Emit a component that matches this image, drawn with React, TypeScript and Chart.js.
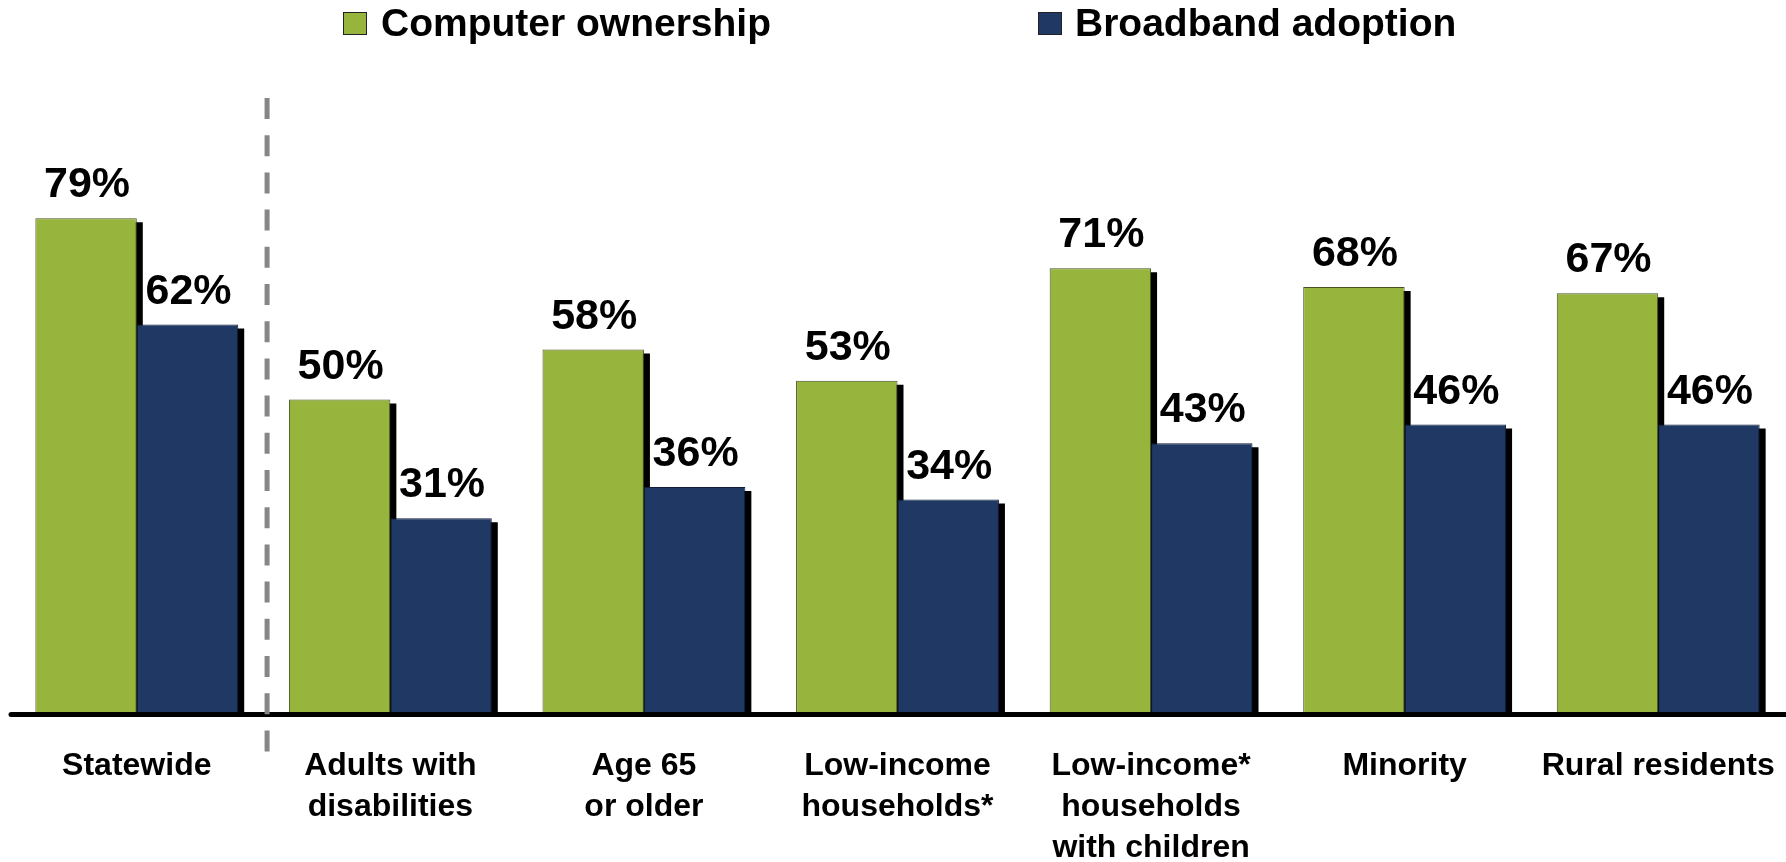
import React, { useEffect, useRef } from "react";
import { Chart, registerables } from "chart.js";

Chart.register(...registerables);

const categories: string[][] = [
  ["Statewide"],
  ["Adults with", "disabilities"],
  ["Age 65", "or older"],
  ["Low-income", "households*"],
  ["Low-income*", "households", "with children"],
  ["Minority"],
  ["Rural residents"],
];
const computerOwnership: number[] = [79, 50, 58, 53, 71, 68, 67];
const broadbandAdoption: number[] = [62, 31, 36, 34, 43, 46, 46];
const seriesNames: string[] = ["Computer ownership", "Broadband adoption"];
const seriesColors: string[] = ["#97B43D", "#1F3864"];
const seriesBorders: string[] = ["#45521F", "#101C38"];

const FONT = '"Liberation Sans", Arial, Helvetica, sans-serif';

const shadowPlugin = {
  id: "barShadows",
  beforeDatasetsDraw(chart: any) {
    const ctx = chart.ctx;
    ctx.save();
    ctx.fillStyle = "#000000";
    chart.data.datasets.forEach((_d: any, di: number) => {
      const meta = chart.getDatasetMeta(di);
      meta.data.forEach((el: any) => {
        const p = el.getProps(["x", "y", "base", "width"], true);
        ctx.fillRect(p.x - p.width / 2 + 6, p.y + 4, p.width, p.base - p.y - 4);
      });
    });
    ctx.restore();
  },
};

const overlayPlugin = {
  id: "overlay",
  afterDatasetsDraw(chart: any) {
    const ctx = chart.ctx;
    const yScale = chart.scales.y;
    const xScale = chart.scales.x;
    const zeroY = yScale.getPixelForValue(0);
    ctx.save();
    // axis line
    ctx.fillStyle = "#000000";
    ctx.beginPath();
    ctx.moveTo(11, zeroY);
    ctx.lineTo(chart.width, zeroY);
    ctx.lineTo(chart.width, zeroY + 5);
    ctx.lineTo(11, zeroY + 5);
    ctx.arc(11, zeroY + 2.5, 2.5, Math.PI / 2, (Math.PI * 3) / 2);
    ctx.closePath();
    ctx.fill();
    // value labels
    ctx.font = `bold 43px ${FONT}`;
    ctx.textAlign = "center";
    ctx.textBaseline = "alphabetic";
    ctx.fillStyle = "#000000";
    chart.data.datasets.forEach((d: any, di: number) => {
      const meta = chart.getDatasetMeta(di);
      meta.data.forEach((el: any, i: number) => {
        const p = el.getProps(["x", "y"], true);
        ctx.fillText(`${d.data[i]}%`, p.x + 1, p.y - 21);
      });
    });
    // dashed divider between first and second category
    const divX = (xScale.getPixelForValue(0) + xScale.getPixelForValue(1)) / 2 + 3.5;
    ctx.strokeStyle = "#868686";
    ctx.lineWidth = 5;
    ctx.setLineDash([21, 16.2]);
    ctx.beginPath();
    ctx.moveTo(divX, 98);
    ctx.lineTo(divX, 753);
    ctx.stroke();
    ctx.setLineDash([]);
    // legend
    const legendItems = [
      { box: 343, text: 381 },
      { box: 1038, text: 1075 },
    ];
    ctx.font = `bold 39px ${FONT}`;
    ctx.textAlign = "left";
    ctx.textBaseline = "alphabetic";
    legendItems.forEach((it, i) => {
      ctx.fillStyle = seriesColors[i];
      ctx.fillRect(it.box, 12, 24, 23);
      ctx.strokeStyle = "#222222";
      ctx.lineWidth = 1;
      ctx.strokeRect(it.box + 0.5, 12.5, 23, 22);
      ctx.fillStyle = "#000000";
      ctx.fillText(seriesNames[i], it.text, 36);
    });
    ctx.restore();
  },
};

export default function App() {
  const ref = useRef<HTMLCanvasElement | null>(null);
  useEffect(() => {
    if (!ref.current) return;
    const chart = new Chart(ref.current, {
      type: "bar",
      data: {
        labels: categories,
        datasets: [
          {
            label: seriesNames[0],
            data: computerOwnership,
            backgroundColor: seriesColors[0],
            borderColor: seriesBorders[0],
            borderWidth: 1,
            barPercentage: 1.0,
            categoryPercentage: 0.8,
          },
          {
            label: seriesNames[1],
            data: broadbandAdoption,
            backgroundColor: seriesColors[1],
            borderColor: seriesBorders[1],
            borderWidth: 1,
            barPercentage: 1.0,
            categoryPercentage: 0.8,
          },
        ],
      },
      options: {
        animation: false,
        responsive: false,
        maintainAspectRatio: false,
        layout: { padding: { top: 87, left: 10, right: 1, bottom: 0 } },
        plugins: {
          legend: { display: false },
          tooltip: { enabled: false },
        },
        scales: {
          x: {
            grid: { display: false, drawTicks: false },
            border: { display: false },
            afterFit(scale: any) {
              scale.height = 150;
              scale.paddingLeft = 0;
              scale.paddingRight = 0;
            },
            ticks: {
              color: "#000000",
              padding: 34,
              maxRotation: 0,
              autoSkip: false,
              font: { family: FONT, size: 32, weight: "bold", lineHeight: 1.28 },
            },
          },
          y: {
            display: false,
            min: 0,
            max: 100,
          },
        },
      },
      plugins: [shadowPlugin, overlayPlugin],
    });
    return () => chart.destroy();
  }, []);
  return (
    <div style={{ position: "absolute", left: 0, top: 0, width: 1786, height: 862, background: "#ffffff" }}>
      <canvas ref={ref} width={1786} height={862} style={{ width: 1786, height: 862, display: "block" }} />
    </div>
  );
}
